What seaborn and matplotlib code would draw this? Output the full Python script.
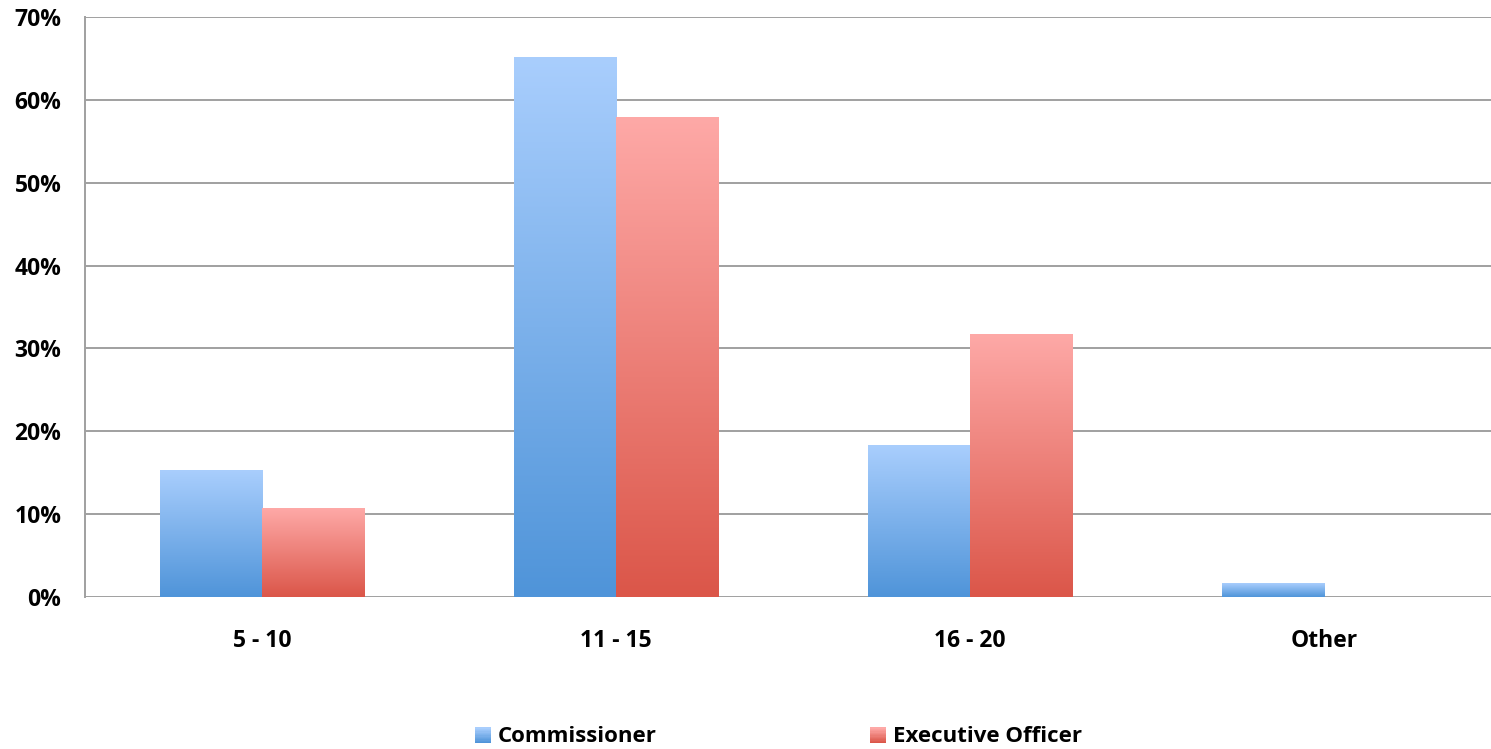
import numpy as np
import pandas as pd
import matplotlib.pyplot as plt
import seaborn as sns
from matplotlib.colors import LinearSegmentedColormap
from matplotlib.patches import Rectangle
from matplotlib.legend_handler import HandlerBase

# values (share of respondents)
categories = ["5 - 10", "11 - 15", "16 - 20", "Other"]
commissioner = [0.153, 0.651, 0.183, 0.016]
executive_officer = [0.107, 0.579, 0.317, 0.0]
series_names = ["Commissioner", "Executive Officer"]

df = pd.DataFrame({
    "category": categories * 2,
    "share": commissioner + executive_officer,
    "series": [series_names[0]] * 4 + [series_names[1]] * 4,
})

# gradient colours (top, bottom)
grad = {
    "Commissioner": ("#A9CEFD", "#4F94D9"),
    "Executive Officer": ("#FEA9A7", "#DB5649"),
}

sns.set_style("white")
plt.rcParams['font.family'] = ['Open Sans', 'DejaVu Sans']
plt.rcParams['font.weight'] = 'bold'
plt.rcParams['text.color'] = 'black'
plt.rcParams['xtick.labelcolor'] = 'black'
plt.rcParams['ytick.labelcolor'] = 'black'

FS = 16.5

fig = plt.figure(figsize=(14.91, 7.49), dpi=100)
# the plot area runs a little past the right edge of the image
ax = fig.add_axes([0.057, 0.203, 0.9497, 0.774])

sns.barplot(data=df, x="category", y="share", hue="series", order=categories,
            hue_order=series_names, width=0.577, palette=[grad[s][1] for s in series_names],
            legend=False, ax=ax, zorder=3)

# replace flat bars with vertical gradients
for i, p in enumerate(list(ax.patches)):
    s = series_names[i // len(categories)]
    x, w, h = p.get_x(), p.get_width(), p.get_height()
    p.set_visible(False)
    if h <= 0:
        continue
    cmap = LinearSegmentedColormap.from_list(s, [grad[s][1], grad[s][0]])
    g = np.linspace(0, 1, 256).reshape(-1, 1)
    ax.imshow(g, cmap=cmap, origin="lower", extent=[x, x + w, 0, h],
              aspect="auto", zorder=3, interpolation="bicubic")

ax.set_xlim(-0.5, 3.5)
ax.set_ylim(0, 0.7)
ax.set_yticks(np.arange(0, 0.71, 0.1))
ax.set_yticklabels([f"{int(round(v * 100))}%" for v in np.arange(0, 0.71, 0.1)], fontsize=FS)
ax.set_xticks(range(len(categories)))
ax.set_xticklabels(categories, fontsize=FS)
ax.set_xticks([-0.5, 0.5, 1.5, 2.5, 3.5], minor=True)
ax.tick_params(axis="x", which="major", length=0, pad=23)
ax.tick_params(axis="x", which="minor", length=6, width=1.4, color="#A0A0A0", direction="out")
ax.tick_params(axis="y", length=5, width=1.4, color="#A0A0A0", direction="out", pad=12)
ax.set_xlabel("")
ax.set_ylabel("")

ax.grid(axis="y", color="#A0A0A0", linewidth=1.4, zorder=0)
ax.set_axisbelow(True)
for side in ["top", "right"]:
    ax.spines[side].set_visible(False)
ax.spines["bottom"].set_visible(False)
ax.spines["left"].set_color("#A0A0A0")
ax.spines["left"].set_linewidth(1.4)


class GradientHandler(HandlerBase):
    def __init__(self, top, bottom):
        super().__init__()
        self.top, self.bottom = top, bottom

    def create_artists(self, legend, orig_handle, xdescent, ydescent, width, height, fontsize, trans):
        cmap = LinearSegmentedColormap.from_list("h", [self.bottom, self.top])
        n = 12
        side = width
        y0 = -ydescent + (height - side) / 2 - 1
        arts = []
        for k in range(n):
            r = Rectangle((-xdescent, y0 + side * k / n), side, side / n + 0.3,
                          facecolor=cmap(k / (n - 1)), edgecolor="none", transform=trans)
            arts.append(r)
        return arts


LFS = 16
handles = [Rectangle((0, 0), 1, 1) for _ in series_names]
fig.legend(handles, series_names, loc="center", bbox_to_anchor=(0.522, 0.017),
           ncol=2, frameon=False, fontsize=LFS, handlelength=0.72, handletextpad=0.3,
           columnspacing=9.6,
           handler_map={h: GradientHandler(*grad[s]) for h, s in zip(handles, series_names)})

fig.savefig("out.png", dpi=100)
